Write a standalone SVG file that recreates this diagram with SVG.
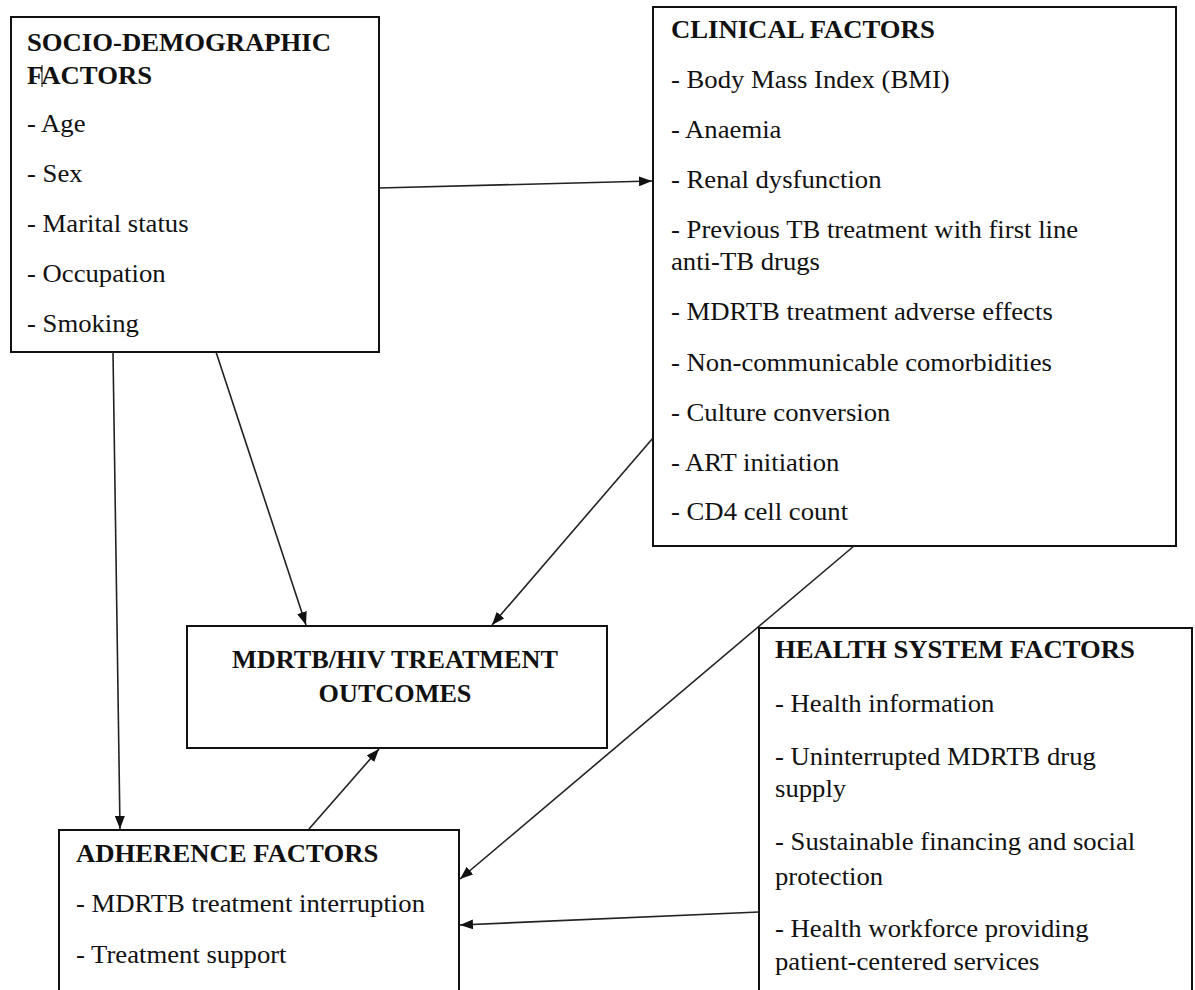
<svg xmlns="http://www.w3.org/2000/svg" width="1195" height="990" viewBox="0 0 1195 990">
<defs>
<marker id="ah" markerWidth="13" markerHeight="10" refX="13" refY="5" orient="auto" markerUnits="userSpaceOnUse">
<path d="M0,0 L13,5 L0,10 z" fill="#111"/>
</marker>
<style>
.box{fill:#fff;stroke:#111;stroke-width:2}
.t{font-family:"Liberation Serif","Times New Roman",serif;font-size:24.5px;fill:#111}
.b{font-weight:bold}
.c{text-anchor:middle}
.ln{stroke:#222;stroke-width:1.6;fill:none;marker-end:url(#ah)}
</style>
</defs>
<rect width="1195" height="990" fill="#fff"/>
<g id="socio">
<rect class="box" x="11" y="17" width="368" height="335"/>
<g transform="translate(27 0) scale(1.09 1)">
<text class="t b" x="0" y="51">SOCIO-DEMOGRAPHIC</text>
<text class="t b" x="0" y="84">FACTORS</text>
<text class="t" x="0" y="132">- Age</text>
<text class="t" x="0" y="182">- Sex</text>
<text class="t" x="0" y="232">- Marital status</text>
<text class="t" x="0" y="282">- Occupation</text>
<text class="t" x="0" y="332">- Smoking</text>
</g>
<line x1="42" y1="65" x2="42" y2="87" stroke="#111" stroke-width="1"/>
</g>
<g id="clinical">
<rect class="box" x="653" y="7" width="523" height="539"/>
<g transform="translate(671 0) scale(1.09 1)">
<text class="t b" x="0" y="38">CLINICAL FACTORS</text>
<text class="t" x="0" y="88">- Body Mass Index (BMI)</text>
<text class="t" x="0" y="138">- Anaemia</text>
<text class="t" x="0" y="188">- Renal dysfunction</text>
<text class="t" x="0" y="238">- Previous TB treatment with first line</text>
<text class="t" x="0" y="270">anti-TB drugs</text>
<text class="t" x="0" y="320">- MDRTB treatment adverse effects</text>
<text class="t" x="0" y="371">- Non-communicable comorbidities</text>
<text class="t" x="0" y="421">- Culture conversion</text>
<text class="t" x="0" y="471">- ART initiation</text>
<text class="t" x="0" y="520">- CD4 cell count</text>
</g>
</g>
<g id="outcomes">
<rect class="box" x="187" y="626" width="420" height="122"/>
<g transform="translate(395 0) scale(1.07 1)">
<text class="t b c" x="0" y="668">MDRTB/HIV TREATMENT</text>
<text class="t b c" x="0" y="702">OUTCOMES</text>
</g>
</g>
<g id="adherence">
<rect class="box" x="59" y="830" width="400" height="175"/>
<g transform="translate(76 0) scale(1.09 1)">
<text class="t b" x="0" y="862">ADHERENCE FACTORS</text>
<text class="t" x="0" y="912">- MDRTB treatment interruption</text>
<text class="t" x="0" y="963">- Treatment support</text>
</g>
</g>
<g id="health">
<rect class="box" x="759" y="628" width="433" height="380"/>
<g transform="translate(775 0) scale(1.09 1)">
<text class="t b" x="0" y="658">HEALTH SYSTEM FACTORS</text>
<text class="t" x="0" y="712">- Health information</text>
<text class="t" x="0" y="765">- Uninterrupted MDRTB drug</text>
<text class="t" x="0" y="797">supply</text>
<text class="t" x="0" y="850">- Sustainable financing and social</text>
<text class="t" x="0" y="885">protection</text>
<text class="t" x="0" y="937">- Health workforce providing</text>
<text class="t" x="0" y="970">patient-centered services</text>
</g>
</g>
<g id="connectors">
<line class="ln" x1="379" y1="188" x2="652" y2="181"/>
<line class="ln" x1="113" y1="352" x2="120" y2="829"/>
<line class="ln" x1="216" y1="352" x2="306" y2="625"/>
<line class="ln" x1="653" y1="438" x2="492" y2="625"/>
<line class="ln" x1="854" y1="546" x2="460" y2="879"/>
<line class="ln" x1="759" y1="912" x2="460" y2="925"/>
<line class="ln" x1="309" y1="829" x2="379" y2="749"/>
</g>
</svg>
